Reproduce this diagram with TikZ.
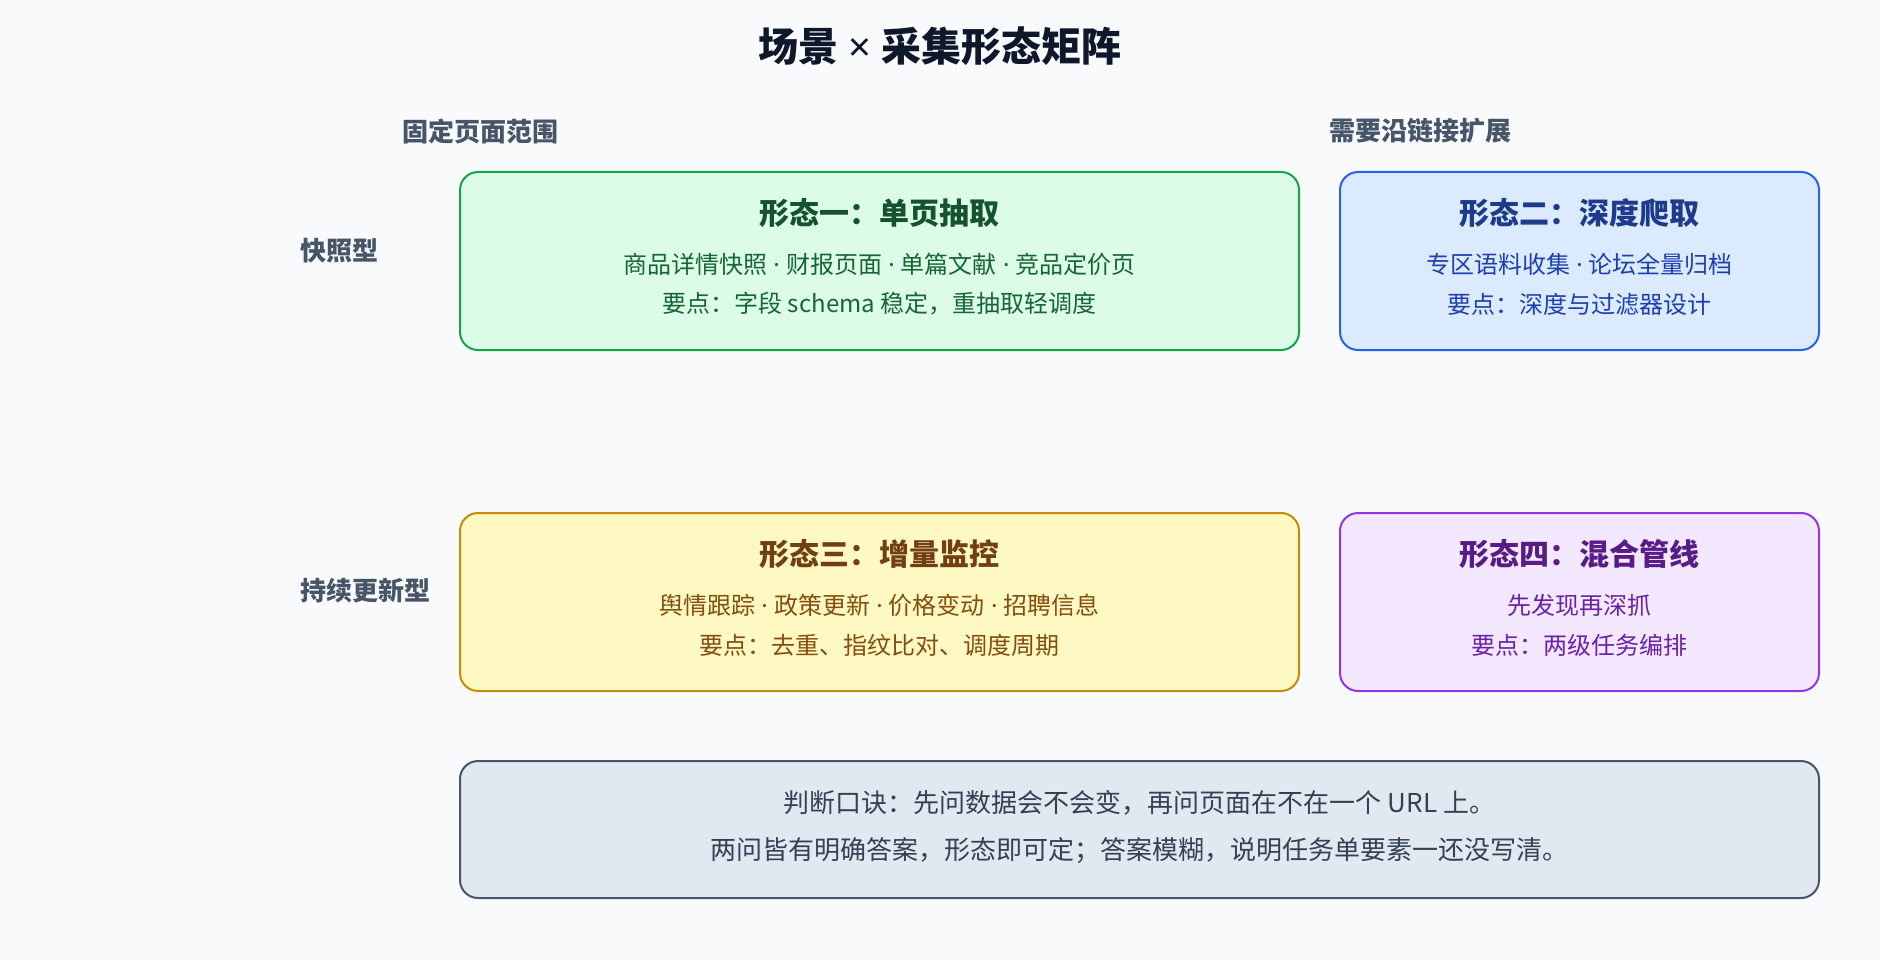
\documentclass[tikz,border=0pt]{standalone}
\usepackage{fontspec}
\setmainfont{Noto Sans CJK SC}
\newfontfamily\latinfont{Noto Sans}
\usepackage{xcolor}
\usepackage{tikz}
\usetikzlibrary{positioning}
\definecolor{pagebg}{HTML}{F8FAFC}
\definecolor{inkmain}{HTML}{0F172A}
\definecolor{inkhead}{HTML}{475569}
\definecolor{greenfill}{HTML}{DCFCE7}
\definecolor{greenline}{HTML}{16A34A}
\definecolor{greentitle}{HTML}{14532D}
\definecolor{greentext}{HTML}{166534}
\definecolor{bluefill}{HTML}{DBEAFE}
\definecolor{blueline}{HTML}{2563EB}
\definecolor{bluetitle}{HTML}{1E3A8A}
\definecolor{bluetext}{HTML}{1E40AF}
\definecolor{yellowfill}{HTML}{FEF9C3}
\definecolor{yellowline}{HTML}{CA8A04}
\definecolor{yellowtitle}{HTML}{713F12}
\definecolor{yellowtext}{HTML}{854D0E}
\definecolor{purplefill}{HTML}{F3E8FF}
\definecolor{purpleline}{HTML}{9333EA}
\definecolor{purpletitle}{HTML}{581C87}
\definecolor{purpletext}{HTML}{6B21A8}
\definecolor{notefill}{HTML}{E2E8F0}
\definecolor{noteline}{HTML}{475569}
\definecolor{notetext}{HTML}{334155}
\newcommand{\pxsize}[1]{\fontsize{#1}{#1}\selectfont}
\newcommand{\sepdot}{{\latinfont\ ·\ }}

\begin{document}
\begin{tikzpicture}[x=1pt, y=-1pt]
	\tikzstyle{formc}=[rounded corners=18pt, line width=2pt, minimum width=839pt, minimum height=178pt, inner sep=0pt]
	\tikzstyle{smallc}=[formc, minimum width=479pt]
	\tikzstyle{greenc}=[draw=greenline, fill=greenfill]
	\tikzstyle{bluec}=[draw=blueline, fill=bluefill]
	\tikzstyle{yellowc}=[draw=yellowline, fill=yellowfill]
	\tikzstyle{purplec}=[draw=purpleline, fill=purplefill]
	\tikzstyle{titlet}=[inner sep=0pt, text=inkmain, font=\pxsize{40}\bfseries]
	\tikzstyle{headt}=[inner sep=0pt, text=inkhead, font=\pxsize{26}\bfseries]
	\tikzstyle{formt}=[inner sep=0pt, font=\pxsize{30}\bfseries]
	\tikzstyle{linet}=[inner sep=0pt, font=\pxsize{24}]
	\tikzstyle{notet}=[inner sep=0pt, text=notetext, font=\pxsize{26}]

	\fill[pagebg] (0,0) rectangle (1880,960);

	\node (title) at (940,46) [titlet]{场景{\latinfont\bfseries\ ×\ }采集形态矩阵};
	\node (colfix) at (480,131) [headt]{固定页面范围};
	\node (collink) at (1420,131) [headt]{需要沿链接扩展};
	\node (rowsnap) at (300,251) [headt, anchor=west]{快照型};
	\node (rowlive) at (300,591) [headt, anchor=west]{持续更新型};

	\node (f1) at (879.5,261) [formc, greenc]{};
	\node (f1t) at (879.5,213) [formt, text=greentitle]{形态一：单页抽取};
	\node (f1a) at (879.5,264) [linet, text=greentext]{商品详情快照\sepdot 财报页面\sepdot 单篇文献\sepdot 竞品定价页};
	\node (f1b) at (879.5,304) [linet, text=greentext]{要点：字段 schema 稳定，重抽取轻调度};

	\node (f2) at (1579.5,261) [smallc, bluec]{};
	\node (f2t) at (1579.5,213) [formt, text=bluetitle]{形态二：深度爬取};
	\node (f2a) at (1579.5,264) [linet, text=bluetext]{专区语料收集\sepdot 论坛全量归档};
	\node (f2b) at (1579.5,304) [linet, text=bluetext]{要点：深度与过滤器设计};

	\node (f3) at (879.5,602) [formc, yellowc]{};
	\node (f3t) at (879.5,554) [formt, text=yellowtitle]{形态三：增量监控};
	\node (f3a) at (879.5,605) [linet, text=yellowtext]{舆情跟踪\sepdot 政策更新\sepdot 价格变动\sepdot 招聘信息};
	\node (f3b) at (879.5,645) [linet, text=yellowtext]{要点：去重、指纹比对、调度周期};

	\node (f4) at (1579.5,602) [smallc, purplec]{};
	\node (f4t) at (1579.5,554) [formt, text=purpletitle]{形态四：混合管线};
	\node (f4a) at (1579.5,605) [linet, text=purpletext]{先发现再深抓};
	\node (f4b) at (1579.5,645) [linet, text=purpletext]{要点：两级任务编排};

	\node (rule) at (1139.5,829.5) [formc, draw=noteline, fill=notefill, minimum width=1359pt, minimum height=137pt]{};
	\node (rulea) at (1139.5,803) [notet]{判断口诀：先问数据会不会变，再问页面在不在一个 URL 上。};
	\node (ruleb) at (1139.5,851) [notet]{两问皆有明确答案，形态即可定；答案模糊，说明任务单要素一还没写清。};
\end{tikzpicture}
\end{document}
